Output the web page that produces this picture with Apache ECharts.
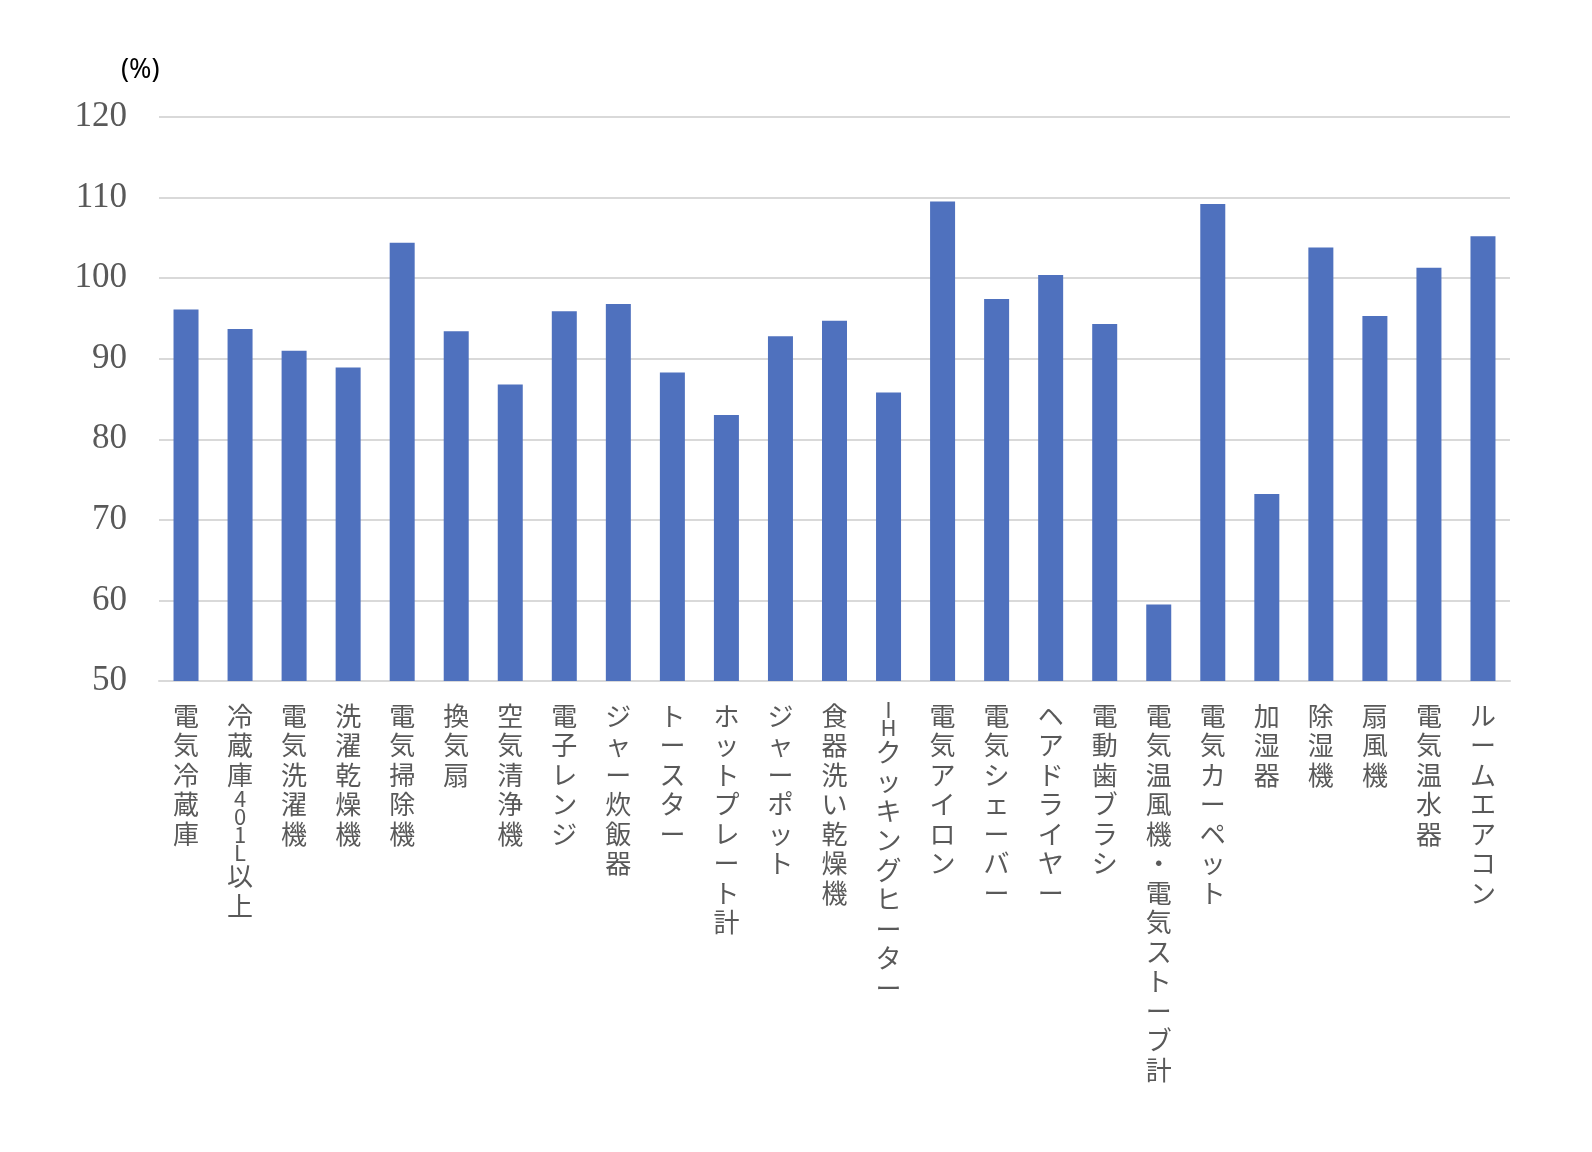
<!DOCTYPE html>
<html>
<head>
<meta charset="utf-8">
<script src="https://cdn.jsdelivr.net/npm/echarts@6/dist/echarts.min.js"></script>
<style>
  html, body { margin: 0; padding: 0; background: #ffffff; }
  #chart { width: 1592px; height: 1152px; }
</style>
</head>
<body>
<div id="chart"></div>
<script>
const categories = [
  '電気冷蔵庫', '冷蔵庫401L以上', '電気洗濯機', '洗濯乾燥機', '電気掃除機',
  '換気扇', '空気清浄機', '電子レンジ', 'ジャー炊飯器', 'トースター',
  'ホットプレート計', 'ジャーポット', '食器洗い乾燥機', 'IHクッキングヒーター', '電気アイロン',
  '電気シェーバー', 'ヘアドライヤー', '電動歯ブラシ', '電気温風機・電気ストーブ計', '電気カーペット',
  '加湿器', '除湿機', '扇風機', '電気温水器', 'ルームエアコン'
];
const values = [
  96.1, 93.7, 91.0, 88.9, 104.4,
  93.4, 86.8, 95.9, 96.8, 88.3,
  83.0, 92.8, 94.7, 85.8, 109.5,
  97.4, 100.4, 94.3, 59.5, 109.2,
  73.2, 103.8, 95.3, 101.3, 105.2
];
const yTicks = { min: 50, max: 120, interval: 10 };
const unitLabel = '(%)';

function verticalText(s) {
  return Array.from(s).map(function (c) {
    return /[\x20-\x7e]/.test(c) ? '{h|' + c + '}' : '{f|' + c + '}';
  }).join('\n');
}

const chart = echarts.init(document.getElementById('chart'));
chart.setOption({
  animation: false,
  backgroundColor: '#ffffff',
  title: {
    text: unitLabel,
    left: 116,
    top: 52,
    textStyle: { fontFamily: 'Noto Sans, sans-serif', fontSize: 27, fontWeight: 'normal', color: '#000000' }
  },
  grid: { left: 159, right: 82, top: 117, bottom: 471, containLabel: false },
  xAxis: {
    type: 'category',
    data: categories,
    axisTick: { show: false },
    axisLine: { show: true, lineStyle: { color: '#D9D9D9', width: 2 } },
    axisLabel: {
      interval: 0,
      margin: 20,
      color: '#595959',
      formatter: function (v) { return verticalText(v); },
      rich: {
        f: { fontFamily: 'Noto Sans CJK JP', fontSize: 26, lineHeight: 29.5, color: '#595959' },
        h: { fontFamily: 'Noto Sans CJK JP', fontSize: 22, lineHeight: 18, color: '#595959' }
      }
    }
  },
  yAxis: {
    type: 'value',
    min: yTicks.min,
    max: yTicks.max,
    interval: yTicks.interval,
    axisLine: { show: false },
    axisTick: { show: false },
    splitLine: { show: true, lineStyle: { color: '#D9D9D9', width: 2 } },
    axisLabel: {
      margin: 32,
      color: '#595959',
      fontFamily: 'Liberation Serif, serif',
      fontSize: 35
    }
  },
  series: [{
    type: 'bar',
    data: values,
    barWidth: 25,
    itemStyle: { color: '#4F71BE' }
  }]
});
</script>
</body>
</html>
